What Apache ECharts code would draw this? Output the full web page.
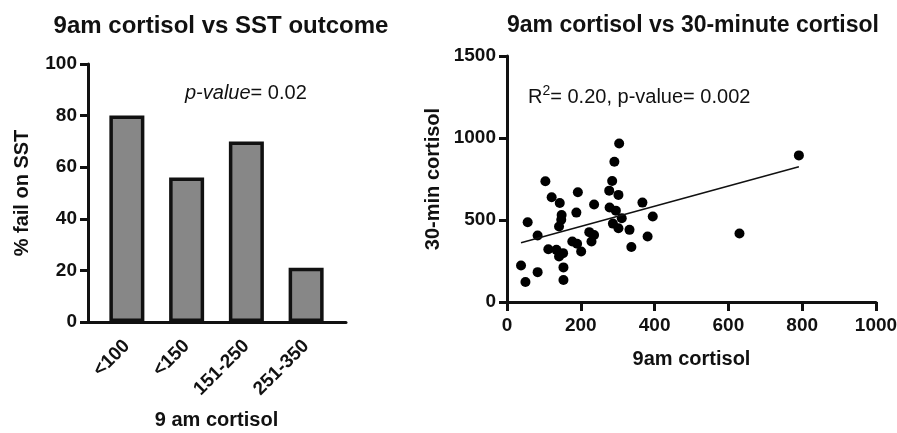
<!DOCTYPE html>
<html lang="en">
<head>
<meta charset="UTF-8">
<title>9am cortisol</title>
<style>
    * { margin: 0; padding: 0; }
    #chart { width: 897px; height: 433px; background: #fff; }
</style>
<script src="https://cdn.jsdelivr.net/npm/echarts@6/dist/echarts.min.js"></script>
</head>
<body>
<div id="chart"></div>
<script>
// left panel: % failing SST by 9am cortisol band
var bandNames = ['<100', '<150', '151-250', '251-350'];
var failPct = [80, 56, 70, 21];

// right panel: 9am cortisol (x) vs 30-min cortisol (y)
var am9 = [38, 50, 56, 83, 83, 104, 112, 121, 134, 143, 148, 147, 141, 141, 152, 153, 153,
    177, 188, 192, 190, 201, 223, 229, 236, 236, 277, 285, 291, 304, 278, 295, 302, 287,
    302, 311, 332, 337, 367, 381, 395, 630, 791];
var min30 = [223, 122, 486, 405, 182, 736, 322, 639, 318, 604, 531, 501, 460, 277, 298, 211, 134,
    369, 545, 669, 355, 308, 426, 369, 409, 594, 679, 738, 855, 967, 576, 557, 653, 478,
    450, 511, 440, 335, 606, 399, 521, 418, 894];
// fitted line ends as drawn in the figure
var fitX = [38, 791];
var fitY = [361, 825];

var font = 'Liberation Sans, Arial, sans-serif';
var black = '#111';

var chart = echarts.init(document.getElementById('chart'));

var points = am9.map(function (v, i) { return [v, min30[i]]; });
var fit = fitX.map(function (v, i) { return [v, fitY[i]]; });

var plain = function (v) { return String(v); }; // no thousands separator
var tickLbl = { color: black, fontFamily: font, fontWeight: 'bold', fontSize: 19, formatter: plain };
var nameTxt = { color: black, fontFamily: font, fontWeight: 'bold', fontSize: 20 };
var line3 = { lineStyle: { color: black, width: 3 } };
var normal = { fontFamily: font, fontSize: 20, fontWeight: 'normal', color: black };

var option = {
    animation: false,
    title: [
        { text: '9am cortisol vs SST outcome', left: 216, top: 9, textAlign: 'center',
          textStyle: { color: black, fontFamily: font, fontWeight: 'bold', fontSize: 24 } },
        { text: '9am cortisol vs 30-minute cortisol', left: 688, top: 9, textAlign: 'center',
          textStyle: { color: black, fontFamily: font, fontWeight: 'bold', fontSize: 23 } },
        { text: '{i|p-value}{n|= 0.02}', left: 180, top: 78,
          textStyle: Object.assign({ rich: {
              i: Object.assign({}, normal, { fontStyle: 'italic' }),
              n: normal } }, normal) },
        { text: '{n|R}{s|2}{n|= 0.20, p-value= 0.002}', left: 523, top: 79,
          textStyle: Object.assign({ rich: {
              n: Object.assign({}, normal, { verticalAlign: 'bottom' }),
              s: Object.assign({}, normal, { fontSize: 14, verticalAlign: 'bottom', padding: [0, 0, 9, 0] })
          } }, normal) }
    ],
    grid: [
        { left: 88, top: 64, width: 258, height: 258, outerBoundsMode: 'none' },   // axes frame of bar chart
        { left: 97, top: 64, width: 239, height: 258, outerBoundsMode: 'none' },   // bar bands
        { left: 507, top: 56, width: 369, height: 246, outerBoundsMode: 'none' }   // scatter
    ],
    xAxis: [
        { gridIndex: 0, type: 'value', min: 0, max: 1, axisLine: line3,
          axisTick: { show: false }, axisLabel: { show: false }, splitLine: { show: false } },
        { gridIndex: 1, type: 'category', data: bandNames,
          axisLine: { show: false },
          axisTick: { alignWithLabel: true, length: 10, lineStyle: { color: black, width: 3 } },
          axisLabel: Object.assign({ rotate: 45, margin: 21, interval: 0 }, tickLbl),
          name: '9 am cortisol', nameLocation: 'middle', nameGap: 88, nameTextStyle: nameTxt },
        { gridIndex: 2, type: 'value', min: 0, max: 1000, interval: 200, axisLine: line3,
          axisTick: { length: 9, lineStyle: { color: black, width: 3 } },
          axisLabel: Object.assign({ margin: 14 }, tickLbl), splitLine: { show: false },
          name: '9am cortisol', nameLocation: 'middle', nameGap: 47, nameTextStyle: nameTxt }
    ],
    yAxis: [
        { gridIndex: 0, type: 'value', min: 0, max: 100, interval: 20, axisLine: line3,
          axisTick: { show: true, length: 8, lineStyle: { color: black, width: 3 } },
          axisLabel: Object.assign({ margin: 11 }, tickLbl), splitLine: { show: false },
          name: '% fail on SST', nameLocation: 'middle', nameGap: 56, nameTextStyle: nameTxt },
        { gridIndex: 1, type: 'value', min: 0, max: 100, show: false },
        { gridIndex: 2, type: 'value', min: 0, max: 1500, interval: 500, axisLine: line3,
          axisTick: { show: true, length: 8, lineStyle: { color: black, width: 3 } },
          axisLabel: Object.assign({ margin: 11 }, tickLbl), splitLine: { show: false },
          name: '30-min cortisol', nameLocation: 'middle', nameGap: 64, nameTextStyle: nameTxt }
    ],
    series: [
        { type: 'bar', xAxisIndex: 1, yAxisIndex: 1, data: failPct, barWidth: 35,
          itemStyle: { color: '#878787', borderColor: black, borderWidth: 3.5 } },
        { type: 'scatter', xAxisIndex: 2, yAxisIndex: 2, data: points, symbolSize: 10,
          itemStyle: { color: '#000', opacity: 1 } },
        { type: 'line', xAxisIndex: 2, yAxisIndex: 2, data: fit, showSymbol: false,
          lineStyle: { color: black, width: 1.5 } }
    ]
};

chart.setOption(option);
</script>
</body>
</html>
